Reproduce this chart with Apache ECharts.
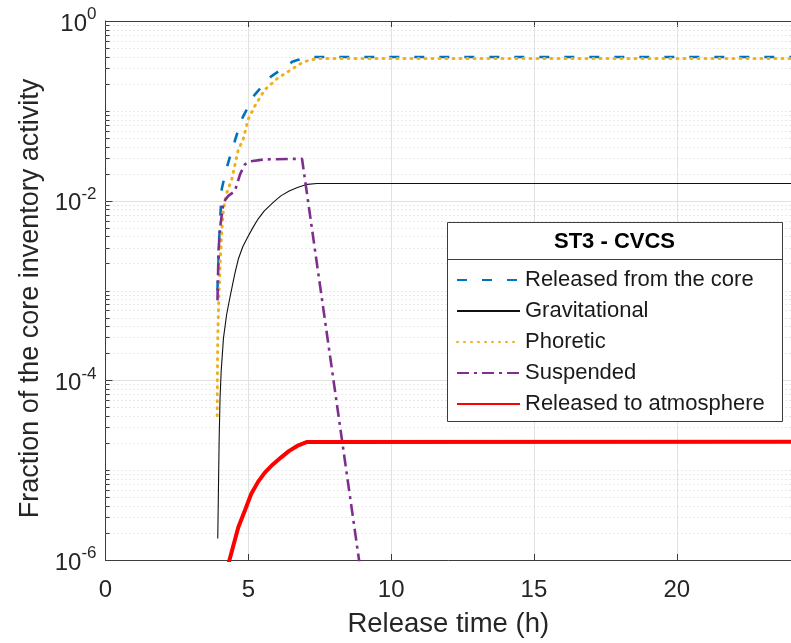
<!DOCTYPE html>
<html><head><meta charset="utf-8">
<script src="https://cdn.jsdelivr.net/npm/echarts@6/dist/echarts.min.js"></script>
<style>html,body{margin:0;padding:0;background:#fff}#chart{width:791px;height:643px}</style>
</head><body><div id="chart"></div>
<script>
// ---- data ----
const seriesNames = ['Released from the core', 'Gravitational', 'Phoretic', 'Suspended', 'Released to atmosphere'];
const xTickValues = [0, 5, 10, 15, 20];
const yTickExponents = [0, -2, -4, -6];

const coreT = [3.92, 3.98, 4.07, 4.24, 4.47, 4.76, 5.22, 5.79, 6.13, 6.54, 6.72, 7.16, 24];
const coreV = [1.0e-3, 3.7e-3, 1.35e-2, 2.3e-2, 4.04e-2, 7.98e-2, 0.151, 0.240, 0.285, 0.352, 0.367, 0.398, 0.398];

const gravT = [3.93, 3.96, 3.98, 4.01, 4.05, 4.13, 4.24, 4.33, 4.42, 4.53, 4.65, 4.81, 4.99, 5.16, 5.34, 5.56, 5.91, 6.14, 6.43, 6.72, 7.06, 7.40, 24];
const gravV = [1.74e-6, 8.3e-6, 2.29e-5, 6.31e-5, 1.26e-4, 2.95e-4, 5.37e-4, 7.59e-4, 1.05e-3, 1.55e-3, 2.24e-3, 3.09e-3, 3.98e-3, 5.01e-3, 6.24e-3, 7.71e-3, 9.82e-3, 1.13e-2, 1.28e-2, 1.40e-2, 1.52e-2, 1.55e-2, 1.55e-2];

const phorT = [3.91, 3.92, 3.93, 3.96, 3.98, 4.02, 4.07, 4.13, 4.25, 4.42, 4.65, 4.82, 4.99, 5.22, 5.57, 6.03, 6.48, 6.94, 7.40, 24];
const phorV = [4.03e-5, 1.26e-4, 2.95e-4, 6.92e-4, 1.05e-3, 2.24e-3, 4.47e-3, 8.05e-3, 1.23e-2, 1.73e-2, 3.72e-2, 4.79e-2, 7.98e-2, 0.112, 0.171, 0.231, 0.285, 0.352, 0.382, 0.382];

const suspT = [3.92, 3.96, 4.02, 4.13, 4.30, 4.53, 4.71, 4.88, 5.09, 5.57, 6.88, 8.88, 9.0];
const suspV = [7.76e-4, 2.91e-3, 5.26e-3, 9.62e-3, 1.13e-2, 1.28e-2, 1.96e-2, 2.54e-2, 2.75e-2, 2.88e-2, 2.93e-2, 9.8e-7, 5.2e-7];

const atmT = [4.2, 4.34, 4.65, 4.88, 5.10, 5.34, 5.57, 5.85, 6.14, 6.43, 6.71, 7.06, 24];
const atmV = [6.8e-7, 1.0e-6, 2.32e-6, 3.56e-6, 5.43e-6, 7.41e-6, 9.33e-6, 1.15e-5, 1.38e-5, 1.64e-5, 1.86e-5, 2.06e-5, 2.07e-5];

// ---- helpers ----
const zip = (t, v) => t.map((x, i) => [x, v[i]]);
const FONT = '"Liberation Sans", Arial, sans-serif';
const AX = '#3c3c3c';

// y-axis gridline / tick decorations (log decades and sub-decade multiples)
const majorY = yTickExponents.map(e => Math.pow(10, e));
const minorY = [];
for (let k = -6; k <= -1; k++) {
  for (let m = 1; m <= 9; m++) {
    if (m === 1 && k % 2 === 0) continue;
    minorY.push(m * Math.pow(10, k));
  }
}
const decoData = majorY.map(v => [0, v, 1]).concat(minorY.map(v => [0, v, 0]));

const chart = echarts.init(document.getElementById('chart'), null, {renderer: 'canvas'});

const lineBase = {type: 'line', symbol: 'none', showSymbol: false, z: 3};

const option = {
  animation: false,
  backgroundColor: '#fff',
  textStyle: {fontFamily: FONT},
  grid: {left: 105.5, right: -9.5, top: 21, bottom: 80, containLabel: false},
  xAxis: [{
    type: 'value', min: 0, max: 24, interval: 5,
    name: 'Release time (h)', nameLocation: 'middle', nameGap: 50,
    nameTextStyle: {fontSize: 27.5, color: '#262626', fontFamily: FONT},
    axisLine: {show: true, onZero: false, lineStyle: {color: AX, width: 1}},
    axisTick: {show: true, inside: true, length: 6, lineStyle: {color: AX}},
    axisLabel: {fontSize: 24, color: '#262626', margin: 18, fontFamily: FONT, showMaxLabel: false,
      formatter: v => (xTickValues.indexOf(v) >= 0 ? String(v) : '')},
    splitLine: {show: true, lineStyle: {color: '#e2e2e2', width: 1}}
  }, {
    type: 'value', min: 0, max: 24, interval: 5, position: 'top',
    axisLine: {show: true, onZero: false, lineStyle: {color: AX, width: 1}},
    axisTick: {show: true, inside: true, length: 6, lineStyle: {color: AX}},
    axisLabel: {show: false}, splitLine: {show: false}
  }],
  yAxis: {
    type: 'log', logBase: 10, min: 1e-6, max: 1,
    name: 'Fraction of the core inventory activity', nameLocation: 'middle', nameGap: 58,
    nameTextStyle: {fontSize: 27, color: '#262626', fontFamily: FONT, padding: [0, 16, 0, 0]},
    axisLine: {show: true, onZero: false, lineStyle: {color: AX, width: 1}},
    axisTick: {show: false},
    splitLine: {show: false},
    axisLabel: {
      margin: 9, color: '#262626', fontFamily: FONT,
      formatter: function (v) {
        const e = Math.round(Math.log10(v));
        if (yTickExponents.indexOf(e) < 0) return '';
        return '{b|10}{s|' + e + '}';
      },
      rich: {
        b: {fontSize: 24, color: '#262626', fontFamily: FONT, verticalAlign: 'bottom', lineHeight: 30},
        s: {fontSize: 17, color: '#262626', fontFamily: FONT, verticalAlign: 'top', lineHeight: 17}
      }
    }
  },
  legend: {
    data: seriesNames, orient: 'vertical', left: 451, top: 264,
    itemWidth: 63, itemHeight: 14, itemGap: 9, z: 10,
    itemStyle: {opacity: 0},
    textStyle: {fontSize: 22, color: '#1a1a1a', fontFamily: FONT, lineHeight: 22},
    selectedMode: false
  },
  graphic: [
    {type: 'rect', z: 5, shape: {x: 447.5, y: 222.5, width: 335, height: 199},
      style: {fill: '#fff', stroke: '#3c3c3c', lineWidth: 1}},
    {type: 'line', z: 6, shape: {x1: 447.5, y1: 259.5, x2: 782.5, y2: 259.5},
      style: {stroke: '#3c3c3c', lineWidth: 1}},
    {type: 'text', z: 6, x: 614.5, y: 242,
      style: {text: 'ST3 - CVCS', font: 'bold 22px ' + FONT, fill: '#000', align: 'center', verticalAlign: 'middle'}}
  ],
  series: [
    {
      type: 'custom', name: 'deco', silent: true, z: 1, clip: false,
      data: decoData,
      renderItem: function (params, api) {
        const cs = params.coordSys;
        const y = Math.round(api.coord([0, api.value(1)])[1]) + 0.5;
        const major = api.value(2) === 1;
        const children = [];
        if (major) {
          if (y > cs.y + 1 && y < cs.y + cs.height - 1) {
            children.push({type: 'line', shape: {x1: cs.x, y1: y, x2: cs.x + cs.width, y2: y},
              style: {stroke: '#e2e2e2', lineWidth: 1}});
          }
          children.push({type: 'line', shape: {x1: cs.x, y1: y, x2: cs.x + 7, y2: y},
            style: {stroke: AX, lineWidth: 1}});
        } else {
          children.push({type: 'line', shape: {x1: cs.x, y1: y, x2: cs.x + cs.width, y2: y},
            style: {stroke: '#d4d4d4', lineWidth: 1, lineDash: [1, 3]}});
          children.push({type: 'line', shape: {x1: cs.x, y1: y, x2: cs.x + 4, y2: y},
            style: {stroke: AX, lineWidth: 1}});
        }
        return {type: 'group', children: children};
      }
    },
    Object.assign({}, lineBase, {name: seriesNames[0], data: zip(coreT, coreV),
      itemStyle: {color: '#0072BD'},
      lineStyle: {color: '#0072BD', width: 2.6, type: [10, 15]}}),
    Object.assign({}, lineBase, {name: seriesNames[1], data: zip(gravT, gravV),
      itemStyle: {color: '#000'},
      lineStyle: {color: '#111', width: 1.1, type: 'solid'}}),
    Object.assign({}, lineBase, {name: seriesNames[2], data: zip(phorT, phorV),
      itemStyle: {color: '#EDB120'},
      lineStyle: {color: '#EDB120', width: 3, type: [1, 6], cap: 'round'}}),
    Object.assign({}, lineBase, {name: seriesNames[3], data: zip(suspT, suspV),
      itemStyle: {color: '#7E2F8E'},
      lineStyle: {color: '#7E2F8E', width: 2.6, type: [12, 5, 3, 5]}}),
    Object.assign({}, lineBase, {name: seriesNames[4], data: zip(atmT, atmV),
      itemStyle: {color: '#FF0000'},
      lineStyle: {color: '#FF0000', width: 4, type: 'solid'}})
  ]
};
chart.setOption(option);
</script></body></html>
